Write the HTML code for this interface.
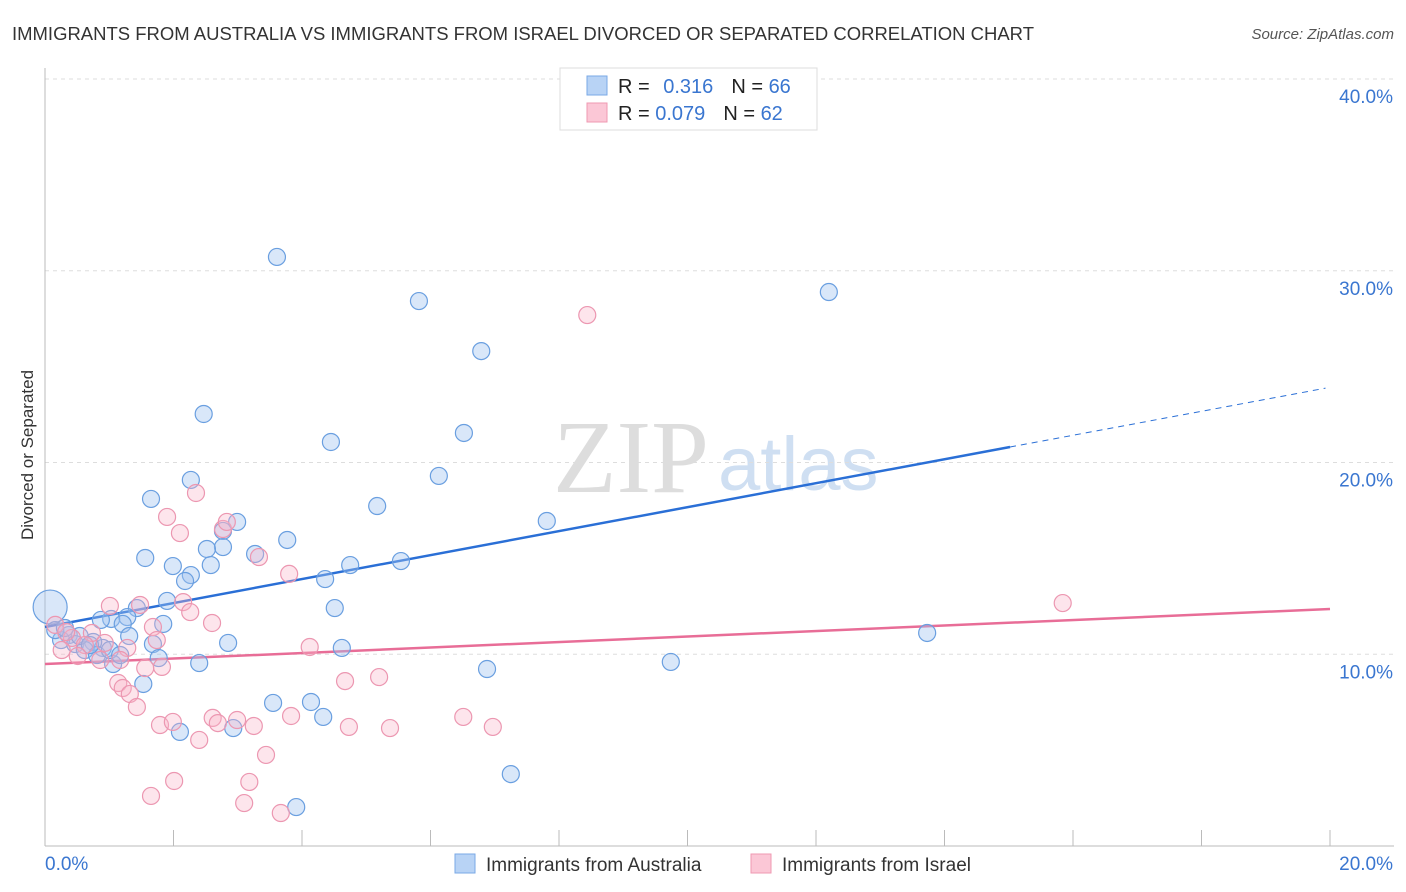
<!DOCTYPE html>
<html><head><meta charset="utf-8"><style>
body{margin:0;background:#fff;font-family:"Liberation Sans",sans-serif}
svg{display:block}
</style></head><body>
<svg id="chart" width="1406" height="892">
<text x="12" y="40" font-size="18" fill="#333" textLength="1022" lengthAdjust="spacingAndGlyphs">IMMIGRANTS FROM AUSTRALIA VS IMMIGRANTS FROM ISRAEL DIVORCED OR SEPARATED CORRELATION CHART</text>
<text x="1394" y="39" font-size="15" fill="#555" font-style="italic" text-anchor="end">Source: ZipAtlas.com</text>
<text x="33" y="455" font-size="17" fill="#333" text-anchor="middle" transform="rotate(-90 33 455)">Divorced or Separated</text>
<g><text x="553" y="492" font-size="104" fill="#ddd" font-family="Liberation Serif,serif">ZIP</text><text x="718" y="490" font-size="76" fill="#cfdff2">atlas</text></g>
<g id="grid"></g><g id="axes"></g><g id="lines"></g><g id="pts"></g>
<g>
<rect x="560" y="68" width="257" height="62" fill="#fff" stroke="#ddd"/>
<rect x="587" y="76" width="20" height="19" fill="#b8d3f5" stroke="#7aa8e6"/>
<rect x="587" y="103" width="20" height="19" fill="#fbc7d6" stroke="#ef98b2"/>
<text x="618" y="93" font-size="20" fill="#222">R = <tspan fill="#3a76d0" dx="8">0.316</tspan><tspan dx="18" fill="#222">N = </tspan><tspan fill="#3a76d0">66</tspan></text>
<text x="618" y="120" font-size="20" fill="#222">R = <tspan fill="#3a76d0">0.079</tspan><tspan dx="18" fill="#222">N = </tspan><tspan fill="#3a76d0">62</tspan></text>
</g>
<g>
<rect x="455" y="854" width="20" height="19" fill="#b8d3f5" stroke="#7aa8e6"/>
<text x="486" y="871" font-size="19" fill="#333">Immigrants from Australia</text>
<rect x="751" y="854" width="20" height="19" fill="#fbc7d6" stroke="#ef98b2"/>
<text x="782" y="871" font-size="19" fill="#333">Immigrants from Israel</text>
</g>
</svg>
<script>
const blueX=[3.61,5.82,12.20,6.79,2.47,6.52,4.45,6.13,2.27,1.65,5.17,7.81,2.99,2.77,3.77,2.77,2.52,1.56,3.27,1.99,2.58,5.54,4.75,2.27,2.18,4.36,1.90,1.43,4.51,1.84,1.28,1.03,0.87,1.21,1.31,0.90,1.68,0.75,2.85,4.62,13.73,0.37,0.25,0.47,0.62,0.81,1.06,1.77,2.40,9.74,6.88,1.53,3.55,4.14,4.33,2.10,2.93,7.25,3.91,0.08,0.16,0.31,0.54,0.70,1.01,1.17];
const blueY=[30.72,28.42,28.89,25.81,22.53,21.54,21.07,19.30,19.09,18.10,17.73,16.95,16.90,16.43,15.96,15.59,15.49,15.02,15.23,14.60,14.65,14.86,14.65,14.13,13.82,13.92,12.78,12.41,12.41,11.58,11.94,11.84,11.79,11.58,10.95,10.33,10.53,10.64,10.59,10.33,11.11,11.00,10.74,10.53,10.22,9.96,9.49,9.80,9.54,9.60,9.23,8.45,7.46,7.51,6.73,5.95,6.15,3.75,2.03,12.46,11.26,11.37,10.95,10.48,10.22,9.96];
const pinkX=[8.44,2.35,1.90,2.10,2.77,2.83,3.33,3.80,1.01,1.48,2.15,2.26,2.60,1.68,1.74,0.73,0.93,1.28,0.42,0.62,0.26,0.51,0.86,1.17,1.82,1.56,4.12,15.84,5.20,4.67,1.14,1.21,1.32,1.43,1.79,1.99,2.61,2.69,2.40,2.99,3.25,3.83,4.73,5.37,6.51,6.97,3.44,2.01,1.65,3.18,3.10,3.67,0.16,0.33];
const pinkY=[27.69,18.41,17.16,16.32,16.53,16.90,15.07,14.19,12.52,12.57,12.72,12.20,11.63,11.42,10.74,11.11,10.59,10.33,10.85,10.48,10.22,9.91,9.70,9.70,9.34,9.28,10.38,12.67,8.81,8.60,8.50,8.24,7.93,7.25,6.31,6.47,6.68,6.41,5.53,6.57,6.26,6.78,6.21,6.15,6.73,6.21,4.75,3.39,2.61,3.34,2.24,1.72,11.53,11.16];
const yTicks=[10,20,30,40];
const blueTrend=[11.42,23.92], blueSolidEnd=15.02, pinkTrend=[9.49,12.36];
const sx=v=>45+v*64.25, sy=v=>846-v*19.175;
const NS='http://www.w3.org/2000/svg';
function mk(p,t,a){const e=document.createElementNS(NS,t);for(const k in a)e.setAttribute(k,a[k]);p.appendChild(e);return e;}
const grid=document.getElementById('grid'),axes=document.getElementById('axes'),lines=document.getElementById('lines'),pts=document.getElementById('pts');
yTicks.forEach(t=>{const l=mk(grid,'line',{x1:45,x2:1394,y1:sy(t),y2:sy(t),stroke:'#ddd','stroke-dasharray':'4,4'});


const tx=mk(axes,'text',{x:1393,y:sy(t)+24,'font-size':19,fill:'#3a76d0','text-anchor':'end'});tx.textContent=t.toFixed(1)+'%';

});
mk(axes,'line',{x1:45,x2:45,y1:68,y2:846,stroke:'#bbb'});
mk(axes,'line',{x1:45,x2:1394,y1:846,y2:846,stroke:'#bbb'});
for(let i=1;i<=10;i++)mk(axes,'line',{x1:sx(i*2),x2:sx(i*2),y1:830,y2:846,stroke:'#bbb'});
[['0.0%',45,'start'],['20.0%',1393,'end']].forEach(([s,x,a])=>{const t=mk(axes,'text',{x:x,y:870,'font-size':19,fill:'#3a76d0','text-anchor':a});t.textContent=s;

});
function dot(x,y,r,f,s){const c=mk(pts,'circle',{cx:sx(x),cy:sy(y),r:r,fill:f,stroke:s,'stroke-width':1.2});return c;}
blueX.forEach((x,i)=>{const c=dot(x,blueY[i],i==59?17:8.5,'rgba(160,195,240,0.4)','#6a9fe0');

});
pinkX.forEach((x,i)=>{const c=dot(x,pinkY[i],8.5,'rgba(248,180,200,0.35)','#ec97b1');

});
const bs=t=>blueTrend[0]+(blueTrend[1]-blueTrend[0])*t/20;
let l1=mk(lines,'line',{x1:sx(0),y1:sy(blueTrend[0]),x2:sx(blueSolidEnd),y2:sy(bs(blueSolidEnd)),stroke:'#2a6fd6','stroke-width':2.5});


let l2=mk(lines,'line',{x1:sx(blueSolidEnd),y1:sy(bs(blueSolidEnd)),x2:sx(19.93),y2:sy(bs(19.93)),stroke:'#2a6fd6','stroke-width':1,'stroke-dasharray':'6,5'});


let l3=mk(lines,'line',{x1:sx(0),y1:sy(pinkTrend[0]),x2:sx(20),y2:sy(pinkTrend[1]),stroke:'#e86d97','stroke-width':2.5});


</script>
</body></html>
